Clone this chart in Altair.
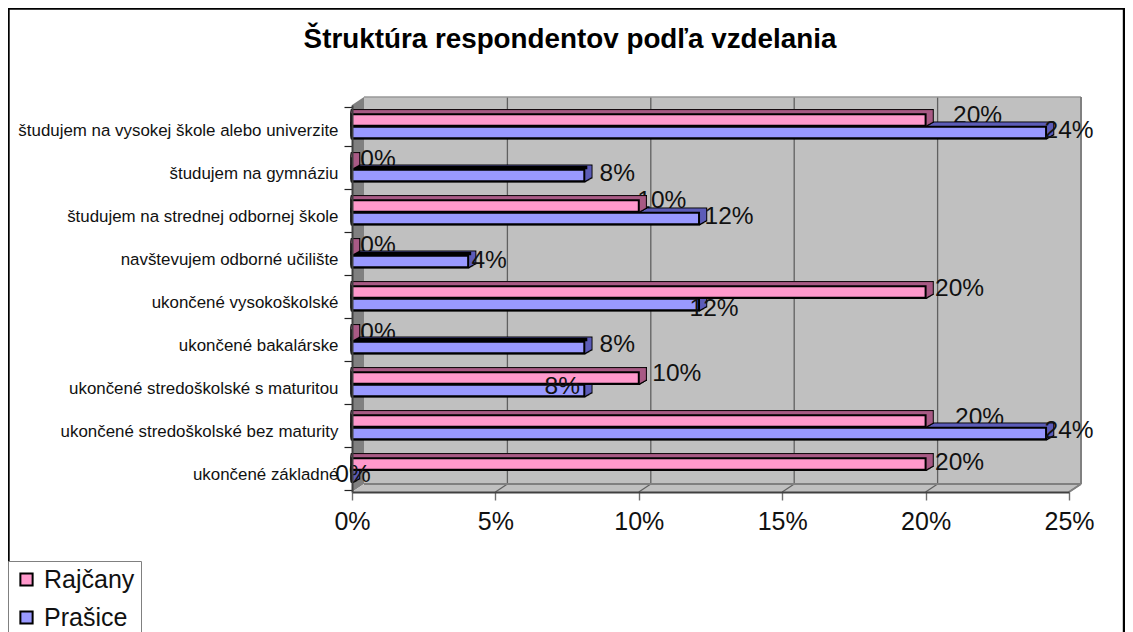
import altair as alt
import pandas as pd

FONT = "Liberation Sans"
TITLE = "Štruktúra respondentov podľa vzdelania"
categories = [
    "študujem na vysokej škole alebo univerzite",
    "študujem na gymnáziu",
    "študujem na strednej odbornej škole",
    "navštevujem odborné učilište",
    "ukončené vysokoškolské ",
    "ukončené bakalárske",
    "ukončené stredoškolské s maturitou",
    "ukončené stredoškolské bez maturity",
    "ukončené základné",
]
series_names = ["Rajčany", "Prašice"]
rajcany = [0.20, 0.0, 0.10, 0.0, 0.20, 0.0, 0.10, 0.20, 0.20]
prasice = [0.242, 0.081, 0.121, 0.0405, 0.121, 0.081, 0.081, 0.242, 0.0]
x_ticks = [0, 0.05, 0.10, 0.15, 0.20, 0.25]

# Hand placement of the data labels (px from the bar end / row centre)
nudge = {
    "Rajčany": [(52, -10.5), (26, -9.5), (23, -11.5), (26, -9.5), (34, -9.5),
                (26, -8.5), (38, -10.5), (54, -9.5), (34, -7.5)],
    "Prašice": [(23, 4.5), (33, 4.5), (30, 4.5), (21, 5.5), (15, 10.5),
                (33, 3.5), (-22, 2.5), (23, 3.5), (1, 4.5)],
}

W, H = 717, 387
PAD = {"left": 344, "top": 97, "right": 56, "bottom": 140}
px = 0.25 / W  # one pixel in x-scale units
DX, DY = 12, 8  # depth of the walls, px
PINK, BLUE = "#FF99CC", "#9999FF"
SHADE = {"Rajčany": "#A85A85", "Prašice": "#5C5CB8"}
BASE = {"Rajčany": -6.5, "Prašice": 6}
BAR = 11.5
STEPS = 7

df = pd.DataFrame(
    [{"cat": c, "series": "Rajčany", "v": v} for c, v in zip(categories, rajcany)]
    + [{"cat": c, "series": "Prašice", "v": v} for c, v in zip(categories, prasice)]
)
alone = [c for c, r, p in zip(categories, rajcany, prasice) if r == 0 and p > 0]

x_scale = alt.Scale(domain=[0, 0.25], nice=False, zero=False)
y_wall = alt.Scale(domain=[0, H], reverse=True, nice=False, zero=False)
fx = alt.X("x:Q", scale=x_scale, axis=None)
fy = alt.Y("y:Q", scale=y_wall, axis=None)
fy2 = alt.Y2("y2:Q")


def poly(points, color):
    return (
        alt.Chart(pd.DataFrame(points, columns=["x", "y", "y2"]))
        .mark_area(color=color, clip=False, interpolate="linear")
        .encode(x=fx, y=fy, y2=fy2)
    )


def line(points, color, width):
    return (
        alt.Chart(pd.DataFrame(points, columns=["x", "y"]))
        .mark_line(color=color, strokeWidth=width, clip=False)
        .encode(x=fx, y=fy, order=alt.Order("x:Q"))
    )


d = DX * px
walls = [
    poly([(d, -DY, H - DY), (0.25 + d, -DY, H - DY)], "#C0C0C0"),
    poly([(0, 0, H), (d, -DY, H - DY)], "#808080"),
    poly([(0, H, H), (d, H - DY, H), (0.25, H - DY, H), (0.25 + d, H - DY, H - DY)], "#C0C0C0"),
]
for t in x_ticks[1:]:
    walls.append(line([(t + d, -DY), (t + d, H - DY)], "#606060", 1.3))
    walls.append(line([(t, H), (t + d, H - DY)], "#606060", 1.2))
walls += [
    line([(d, -DY), (0.25 + d, -DY)], "#999999", 1.6),
    line([(0.25 + d, -DY), (0.25 + d, H - DY)], "#808080", 2),
    line([(0.25, H), (0.25 + d, H - DY)], "#808080", 2),
    line([(d, H - DY), (0.25 + d, H - DY)], "#808080", 2),
]
wall_group = alt.layer(*walls).resolve_axis(x="independent", y="independent")

Y_PLAIN = alt.Y("cat:N", sort=categories, scale=alt.Scale(domain=categories), axis=None)
Y_AXIS = alt.Y(
    "cat:N",
    sort=categories,
    scale=alt.Scale(domain=categories),
    title=None,
    axis=alt.Axis(
        tickBand="extent",
        labelOffset=4,
        labelFontSize=16.9,
        labelFont=FONT,
        labelColor="#111111",
        labelPadding=6,
        labelLimit=340,
        tickSize=8,
        tickColor="#222222",
        tickWidth=1.2,
        domainColor="#404040",
        domainWidth=2,
        grid=False,
        zindex=1,
    ),
)
x_axis_def = alt.Axis(
    values=x_ticks,
    format=".0%",
    labelFontSize=25,
    labelFont=FONT,
    labelColor="#111111",
    labelPadding=9,
    labelFlush=False,
    tickSize=8,
    tickColor="#707070",
    tickWidth=1.4,
    domainColor="#404040",
    domainWidth=2.2,
    grid=False,
    zindex=1,
)
fill_scale = alt.Scale(domain=series_names, range=[PINK, BLUE])
legend = alt.Legend(
    title=None,
    orient="none",
    legendX=-PAD["left"],
    legendY=456,
    symbolType="square",
    symbolSize=150,
    symbolStrokeColor="#000000",
    symbolStrokeWidth=2,
    labelFontSize=25,
    labelFont=FONT,
    labelColor="#111111",
    labelOffset=5,
    rowPadding=12,
    padding=6,
    strokeColor="#808080",
    fillColor="#FFFFFF",
)


def bar_layers(name):
    data = df[df.series == name]
    out = []
    for i in range(STEPS + 1):
        out.append(
            alt.Chart(data)
            .mark_bar(
                size=BAR, xOffset=i, yOffset=BASE[name] - i * 4 / STEPS,
                color="#000000", stroke="#000000", strokeWidth=2.4, clip=False,
            )
            .encode(x=alt.X("v:Q", scale=x_scale, axis=None, stack=None), y=Y_PLAIN)
        )
    for i in range(STEPS + 1):
        out.append(
            alt.Chart(data)
            .mark_bar(
                size=BAR, xOffset=i, yOffset=BASE[name] - i * 4 / STEPS,
                color=SHADE[name], stroke=SHADE[name], strokeWidth=0.5, clip=False,
            )
            .encode(x=alt.X("v:Q", scale=x_scale, axis=None, stack=None), y=Y_PLAIN)
        )
    if name == "Prašice":
        # the top face reads as solid black where no pink bar sits above it
        out.append(
            alt.Chart(data[data.cat.isin(alone)])
            .mark_bar(size=3.5, xOffset=3, yOffset=-2, color="#000000", clip=False)
            .encode(x=alt.X("v:Q", scale=x_scale, axis=None, stack=None), y=Y_PLAIN)
        )
    out.append(
        alt.Chart(data)
        .mark_bar(size=BAR, yOffset=BASE[name], stroke="#000000", strokeWidth=2, clip=False)
        .encode(
            x=alt.X("v:Q", scale=x_scale, axis=None, stack=None),
            y=Y_PLAIN,
            fill=alt.Fill("series:N", scale=fill_scale, legend=legend),
        )
    )
    return out


def label_layers(name):
    data = df[df.series == name].reset_index(drop=True)
    out = []
    for i, (dx, dy) in enumerate(nudge[name]):
        out.append(
            alt.Chart(data.iloc[[i]])
            .mark_text(
                dx=dx, dy=dy, align="center", baseline="middle",
                fontSize=24.5, font=FONT, color="#111111", clip=False,
            )
            .encode(
                x=alt.X("v:Q", scale=x_scale, axis=None, stack=None),
                y=Y_PLAIN,
                text=alt.Text("v:Q", format=".0%"),
            )
        )
    return out


axes_layer = (
    alt.Chart(df)
    .mark_bar(opacity=0, clip=False)
    .encode(x=alt.X("v:Q", scale=x_scale, stack=None, title=None, axis=x_axis_def), y=Y_AXIS)
)

bar_group = alt.layer(
    axes_layer,
    *label_layers("Rajčany"),
    *bar_layers("Prašice"),
    *bar_layers("Rajčany"),
    *label_layers("Prašice"),
).resolve_axis(x="independent", y="independent")

border = (
    alt.Chart(pd.DataFrame({"a": [0]}))
    .mark_rect(fill="#FFFFFF", fillOpacity=0, stroke="#000000", strokeWidth=2.4, clip=False)
    .encode(
        x=alt.value(-PAD["left"] + 0.5),
        x2=alt.value(W + PAD["right"] - 1),
        y=alt.value(-PAD["top"] + 0.5),
        y2=alt.value(700),
    )
)

title = (
    alt.Chart(pd.DataFrame({"t": [TITLE]}))
    .mark_text(font=FONT, fontSize=27.8, fontWeight="bold", color="#000000", align="center", baseline="middle", clip=False)
    .encode(x=alt.value(570 - 8 - PAD["left"]), y=alt.value(40 - 8 - PAD["top"]), text="t:N")
)

chart = (
    alt.layer(wall_group, bar_group, border, title)
    .resolve_scale(y="independent")
    .resolve_axis(x="independent", y="independent")
    .properties(
        width=W,
        height=H,
        autosize=alt.AutoSizeParams(type="none"),
        padding=PAD,
        background="#FFFFFF",
    )
    .configure_view(stroke=None)
)
chart.save("out.html", embed_options={"renderer": "svg", "actions": False})
